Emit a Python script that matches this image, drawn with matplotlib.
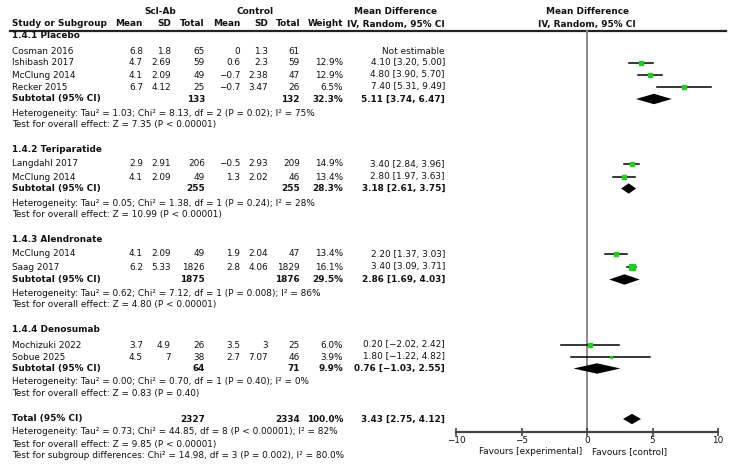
import matplotlib
matplotlib.use("Agg")
import matplotlib.pyplot as plt
import numpy as np

plt.rcParams['font.family'] = ['DejaVu Sans']
FS = 6.4

# ---- data ----
group_names = ["1.4.1 Placebo", "1.4.2 Teriparatide", "1.4.3 Alendronate", "1.4.4 Denosumab"]

study = ["Cosman 2016", "Ishibash 2017", "McClung 2014", "Recker 2015",
         "Langdahl 2017", "McClung 2014",
         "McClung 2014", "Saag 2017",
         "Mochizuki 2022", "Sobue 2025"]
exp_mean = [6.8, 4.7, 4.1, 6.7, 2.9, 4.1, 4.1, 6.2, 3.7, 4.5]
exp_sd = [1.8, 2.69, 2.09, 4.12, 2.91, 2.09, 2.09, 5.33, 4.9, 7]
exp_n = [65, 59, 49, 25, 206, 49, 49, 1826, 26, 38]
ctl_mean = [0, 0.6, -0.7, -0.7, -0.5, 1.3, 1.9, 2.8, 3.5, 2.7]
ctl_sd = [1.3, 2.3, 2.38, 3.47, 2.93, 2.02, 2.04, 4.06, 3, 7.07]
ctl_n = [61, 59, 47, 26, 209, 46, 47, 1829, 25, 46]
weight = [None, 12.9, 12.9, 6.5, 14.9, 13.4, 13.4, 16.1, 6.0, 3.9]
md = [None, 4.10, 4.80, 7.40, 3.40, 2.80, 2.20, 3.40, 0.20, 1.80]
md_lo = [None, 3.20, 3.90, 5.31, 2.84, 1.97, 1.37, 3.09, -2.02, -1.22]
md_hi = [None, 5.00, 5.70, 9.49, 3.96, 3.63, 3.03, 3.71, 2.42, 4.82]

sub_exp_n = [133, 255, 1875, 64]
sub_ctl_n = [132, 255, 1876, 71]
sub_weight = [32.3, 28.3, 29.5, 9.9]
sub_md = [5.11, 3.18, 2.86, 0.76]
sub_lo = [3.74, 2.61, 1.69, -1.03]
sub_hi = [6.47, 3.75, 4.03, 2.55]
sub_het = ["Tau² = 1.03; Chi² = 8.13, df = 2 (P = 0.02); I² = 75%",
           "Tau² = 0.05; Chi² = 1.38, df = 1 (P = 0.24); I² = 28%",
           "Tau² = 0.62; Chi² = 7.12, df = 1 (P = 0.008); I² = 86%",
           "Tau² = 0.00; Chi² = 0.70, df = 1 (P = 0.40); I² = 0%"]
sub_z = ["Z = 7.35 (P < 0.00001)", "Z = 10.99 (P < 0.00001)",
         "Z = 4.80 (P < 0.00001)", "Z = 0.83 (P = 0.40)"]

total_exp_n = 2327
total_ctl_n = 2334
total_md = 3.43
total_lo = 2.75
total_hi = 4.12
total_het = "Tau² = 0.73; Chi² = 44.85, df = 8 (P < 0.00001); I² = 82%"
total_z = "Z = 9.85 (P < 0.00001)"
subgroup_test = "Chi² = 14.98, df = 3 (P = 0.002), I² = 80.0%"

xticks = [-10, -5, 0, 5, 10]

# ---- layout (pixel rows) ----
head_y = [36, 150, 240, 330]
study_y = [51, 62.5, 75, 87, 164, 177, 254, 267, 345, 357]
sub_y = [99, 188.5, 279.5, 368.5]
het_y = [113, 203, 293, 382]
z_y = [125, 214.5, 305, 393.5]
tot_y = [419, 432, 444, 456]
axis_y = 432

col_x = dict(em=143, esd=171, en=205, cm=240, csd=268, cn=300, w=343, md=445)


def num(v):
    return f"{v:g}".replace("-", "\u2212")


def ci(m, lo, hi):
    return f"{m:.2f} [{lo:.2f}, {hi:.2f}]".replace("-", "\u2212")


W, H = 733, 470
fig = plt.figure(figsize=(W / 100, H / 100), dpi=100)
tx = fig.add_axes([0, 0, 1, 1])
tx.set_xlim(0, W)
tx.set_ylim(H, 0)
tx.axis('off')


def put(x, y, s, ha='right', bold=False):
    tx.text(x, y, s, ha=ha, va='center', fontsize=FS,
            fontweight='bold' if bold else 'normal', color='#111111')


# headers
put(160, 11, "Scl-Ab", ha='center', bold=True)
put(255, 11, "Control", ha='center', bold=True)
put(396, 11, "Mean Difference", ha='center', bold=True)
put(587, 11, "Mean Difference", ha='center', bold=True)
put(12, 24, "Study or Subgroup", ha='left', bold=True)
for key, lab in [('em', 'Mean'), ('esd', 'SD'), ('en', 'Total'), ('cm', 'Mean'),
                 ('csd', 'SD'), ('cn', 'Total'), ('w', 'Weight')]:
    put(col_x[key], 24, lab, bold=True)
put(col_x['md'], 24, "IV, Random, 95% CI", bold=True)
put(587, 24, "IV, Random, 95% CI", ha='center', bold=True)
tx.plot([10, 726], [31, 31], color='#222222', lw=1.6)

# studies
for i, name in enumerate(study):
    y = study_y[i]
    put(12, y, name, ha='left')
    put(col_x['em'], y, num(exp_mean[i]))
    put(col_x['esd'], y, num(exp_sd[i]))
    put(col_x['en'], y, str(exp_n[i]))
    put(col_x['cm'], y, num(ctl_mean[i]))
    put(col_x['csd'], y, num(ctl_sd[i]))
    put(col_x['cn'], y, str(ctl_n[i]))
    if md[i] is None:
        put(col_x['md'], y, "Not estimable")
    else:
        put(col_x['w'], y, f"{weight[i]:.1f}%")
        put(col_x['md'], y, ci(md[i], md_lo[i], md_hi[i]))

# groups
for g, gname in enumerate(group_names):
    put(12, head_y[g], gname, ha='left', bold=True)
    y = sub_y[g]
    put(12, y, "Subtotal (95% CI)", ha='left', bold=True)
    put(col_x['en'], y, str(sub_exp_n[g]), bold=True)
    put(col_x['cn'], y, str(sub_ctl_n[g]), bold=True)
    put(col_x['w'], y, f"{sub_weight[g]:.1f}%", bold=True)
    put(col_x['md'], y, ci(sub_md[g], sub_lo[g], sub_hi[g]), bold=True)
    put(12, het_y[g], "Heterogeneity: " + sub_het[g], ha='left')
    put(12, z_y[g], "Test for overall effect: " + sub_z[g], ha='left')

# total
put(12, tot_y[0], "Total (95% CI)", ha='left', bold=True)
put(col_x['en'], tot_y[0], str(total_exp_n), bold=True)
put(col_x['cn'], tot_y[0], str(total_ctl_n), bold=True)
put(col_x['w'], tot_y[0], "100.0%", bold=True)
put(col_x['md'], tot_y[0], ci(total_md, total_lo, total_hi), bold=True)
put(12, tot_y[1], "Heterogeneity: " + total_het, ha='left')
put(12, tot_y[2], "Test for overall effect: " + total_z, ha='left')
put(12, tot_y[3], "Test for subgroup differences: " + subgroup_test, ha='left')

# ---- forest plot ----
px_per_unit = (718.0 - 456.0) / 20
x0_px = 587.0
xpad = 10.6
left = x0_px - xpad * px_per_unit
ax = fig.add_axes([left / W, 0, 2 * xpad * px_per_unit / W, 1])
ax.set_xlim(-xpad, xpad)
ax.set_ylim(H, 0)
ax.patch.set_alpha(0)
for s in ['top', 'left', 'right']:
    ax.spines[s].set_visible(False)
ax.spines['bottom'].set_position(('data', axis_y))
ax.spines['bottom'].set_bounds(-10, 10)
ax.spines['bottom'].set_color('#444444')
ax.spines['bottom'].set_linewidth(1.6)
ax.set_yticks([])
ax.set_xticks(xticks)
ax.set_xticklabels([num(v) for v in xticks])
ax.tick_params(axis='x', direction='inout', length=6, width=1.2, color='#444444',
               labelsize=FS, pad=0, labelcolor='#111111')

ax.plot([0, 0], [31, axis_y], color='#8a8a8a', lw=1.4, zorder=1)

for i in range(len(study)):
    if md[i] is None:
        continue
    y = study_y[i]
    ax.plot([md_lo[i], md_hi[i]], [y, y], color='black', lw=1.1, zorder=2)
    ax.plot(md[i], y, marker='s', ms=0.9 * np.sqrt(weight[i]), color='#22cc22',
            mec='#22cc22', zorder=3)

h = 5.2
for m, lo, hi, y in list(zip(sub_md, sub_lo, sub_hi, sub_y)) + [(total_md, total_lo, total_hi, tot_y[0])]:
    ax.fill([lo, m, hi, m], [y, y - h, y, y + h], color='black', zorder=3, lw=0)

ax.text(-0.35, 452, "Favours [experimental]", ha='right', va='center', fontsize=FS, color='#111111')
ax.text(0.35, 452, "Favours [control]", ha='left', va='center', fontsize=FS, color='#111111')

fig.savefig("out.png", dpi=100)
